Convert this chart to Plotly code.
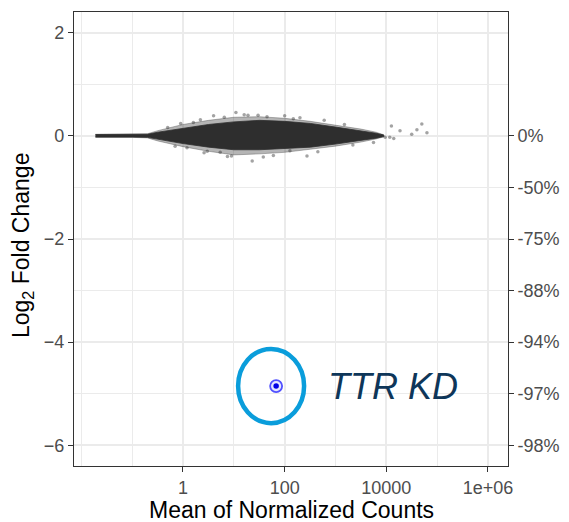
import plotly.graph_objects as go
import math

# ---- data ----
# envelope of the dense gene cloud: mean counts vs log2 fold change
cloud_x = [0.019, 0.1, 0.2, 0.32, 1, 3.2, 10, 32, 100, 320, 1000, 3200, 6300, 8900]
halo_upper = [0.03, 0.03, 0.04, 0.10, 0.22, 0.30, 0.36, 0.37, 0.34, 0.28, 0.21, 0.13, 0.07, 0.02]
halo_lower = [-0.03, -0.03, -0.04, -0.10, -0.21, -0.30, -0.37, -0.35, -0.32, -0.26, -0.20, -0.12, -0.06, -0.02]
core_upper = [0.025, 0.025, 0.03, 0.07, 0.15, 0.22, 0.27, 0.30, 0.28, 0.24, 0.17, 0.10, 0.05, 0.015]
core_lower = [-0.025, -0.025, -0.03, -0.07, -0.15, -0.22, -0.27, -0.27, -0.25, -0.22, -0.16, -0.09, -0.045, -0.015]

# scattered genes outside the dense core
sparse_x = [11, 45, 100, 9, 23, 275, 127, 5.4, 1.6, 12600, 50000, 63000, 18600, 31600,
            9500, 11700, 5600, 4, 148, 600, 2200, 0.7, 14000, 40000,
            0.5, 0.9, 2.2, 3.0, 6.5, 16, 30, 60, 1.2, 2.6, 7.5, 19, 38, 200, 450, 1500]
sparse_y = [0.45, 0.37, 0.39, -0.39, -0.49, -0.39, -0.29, -0.32, 0.26, 0.19, 0.23, 0.06,
            0.10, 0.03, -0.03, -0.03, -0.13, 0.39, 0.33, 0.30, -0.18, -0.2, -0.05, 0.12,
            0.16, 0.24, 0.31, -0.30, 0.36, 0.41, 0.40, -0.38, -0.23, -0.33, -0.40, 0.40, -0.41, 0.35, -0.31, 0.22]

# highlighted gene
ttr_x = [68]
ttr_y = [-4.85]
ttr_label = "TTR KD"

# axes
x_tickvals = [1, 100, 10000, 1000000]
x_ticktext = ["1", "100", "10000", "1e+06"]
x_minor = [0.01, 0.1, 10, 1000, 100000]
y_tickvals = [-6, -4, -2, 0, 2]
y_minor = [-5, -3, -1, 1]
pct_vals = [0, -1, -2, -3, -4, -5, -6]
pct_text = ["0%", "-50%", "-75%", "-88%", "-94%", "-97%", "-98%"]

x_range_log = [-2.144, 6.394]
y_range = [-6.4, 2.4]

fig = go.Figure()

fig.add_trace(go.Scatter(
    x=cloud_x + cloud_x[::-1], y=halo_upper + halo_lower[::-1],
    fill="toself", mode="lines", line=dict(width=0.8, color="rgba(60,60,60,0.45)"),
    fillcolor="rgba(70,70,70,0.40)", hoverinfo="skip", showlegend=False))
fig.add_trace(go.Scatter(
    x=cloud_x + cloud_x[::-1], y=core_upper + core_lower[::-1],
    fill="toself", mode="lines", line=dict(width=0.8, color="#2e2e2e"),
    fillcolor="#2e2e2e", hoverinfo="skip", showlegend=False))
fig.add_trace(go.Scatter(
    x=sparse_x, y=sparse_y, mode="markers",
    marker=dict(size=3.5, color="rgba(50,50,50,0.45)", line=dict(width=0)),
    hoverinfo="skip", showlegend=False))

# TTR point: ring + dot
fig.add_trace(go.Scatter(
    x=ttr_x, y=ttr_y, mode="markers",
    marker=dict(size=12, color="#e6e6ff", line=dict(width=1.8, color="#5050ff")),
    showlegend=False, hoverinfo="skip"))
fig.add_trace(go.Scatter(
    x=ttr_x, y=ttr_y, mode="markers",
    marker=dict(size=5.5, color="#0000e6", line=dict(width=0)),
    showlegend=False, hoverinfo="skip"))

# dummy trace for secondary y axis
fig.add_trace(go.Scatter(x=[None], y=[None], yaxis="y2", showlegend=False, hoverinfo="skip"))

# highlight ellipse around TTR (shape coordinates on a log axis are data values)
fig.add_shape(type="circle", xref="x", yref="y",
              x0=ttr_x[0] / 5.6, x1=ttr_x[0] * 3.55,
              y0=ttr_y[0] - 0.72, y1=ttr_y[0] + 0.72,
              line=dict(color="#0a9ddb", width=4.5))

FONT = "Liberation Sans, Arial, sans-serif"

fig.add_annotation(x=math.log10(ttr_x[0]), y=ttr_y[0], xref="x", yref="y",
                   text="<i>" + ttr_label + "</i>", showarrow=False,
                   xanchor="left", yanchor="middle", xshift=50,
                   font=dict(family=FONT, size=36, color="#0e3659"))

tick_font = dict(family=FONT, size=18, color="#4d4d4d")
title_font = dict(family=FONT, size=23, color="#000000")

# axis titles
fig.add_annotation(x=0.5, y=0, xref="paper", yref="paper", text="Mean of Normalized Counts",
                   showarrow=False, xanchor="center", yanchor="middle", yshift=-44,
                   font=title_font)
fig.add_annotation(x=0, y=0.5, xref="paper", yref="paper", text="Log<sub>2</sub> Fold Change",
                   showarrow=False, xanchor="center", yanchor="middle", textangle=-90,
                   xshift=-52, yshift=-7, font=title_font)

fig.update_layout(
    width=561, height=514,
    margin=dict(l=66, r=61, t=4, b=56, autoexpand=False),
    plot_bgcolor="white", paper_bgcolor="white",
    showlegend=False,
    xaxis=dict(
        type="log", range=x_range_log, automargin=False,
        tickmode="array", tickvals=x_tickvals, ticktext=x_ticktext,
        ticks="outside", ticklen=5, tickwidth=1.1, tickcolor="#333333",
        showgrid=True, gridcolor="#ebebeb", gridwidth=1.6,
        minor=dict(tickmode="array", tickvals=x_minor, showgrid=True,
                   gridcolor="#ebebeb", gridwidth=0.8, ticks=""),
        showline=True, linecolor="#333333", linewidth=1.1, mirror=True,
        zeroline=False, tickfont=tick_font,
    ),
    yaxis=dict(
        range=y_range, automargin=False,
        tickmode="array", tickvals=y_tickvals,
        ticks="outside", ticklen=5, tickwidth=1.1, tickcolor="#333333",
        showgrid=True, gridcolor="#ebebeb", gridwidth=1.6,
        minor=dict(tickmode="array", tickvals=y_minor, showgrid=True,
                   gridcolor="#ebebeb", gridwidth=0.8, ticks=""),
        showline=True, linecolor="#333333", linewidth=1.1, mirror=True,
        zeroline=False, tickfont=tick_font,
    ),
    yaxis2=dict(
        overlaying="y", side="right", range=y_range, automargin=False,
        tickmode="array", tickvals=pct_vals, ticktext=pct_text,
        ticks="outside", ticklen=5, tickwidth=1.1, tickcolor="#333333",
        showgrid=False, zeroline=False, showline=False,
        tickfont=tick_font,
    ),
)

fig.write_html("out.html")
